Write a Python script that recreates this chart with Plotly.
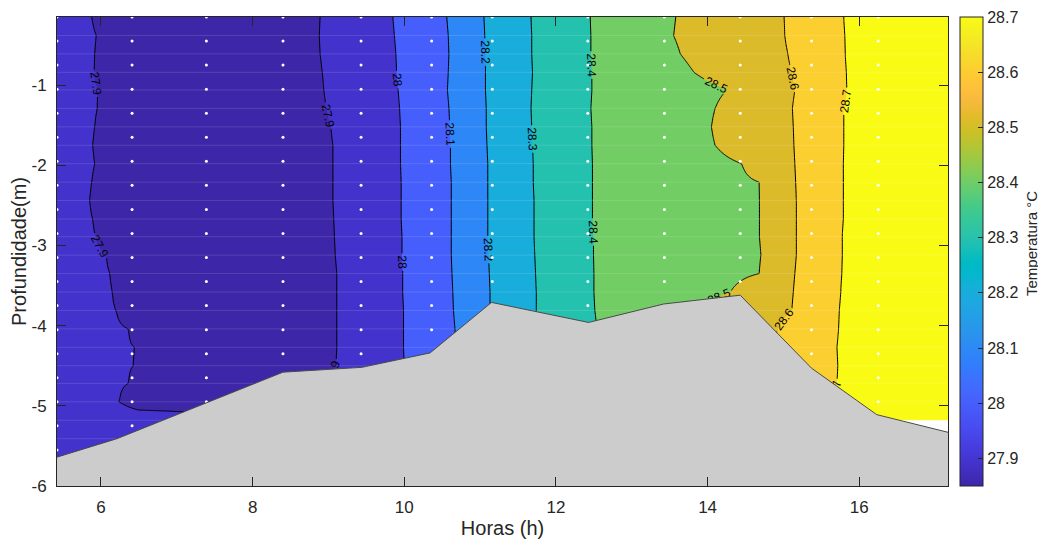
import numpy as np
import plotly.graph_objects as go

# ---------------- data ----------------
hours_range = [5.42, 17.17]
depth_range = [-6.0, -0.15]

# depth rows of the interpolated temperature grid (m)
grid_depths = [-0.15, -0.38, -0.61, -0.84, -1.06, -1.29, -1.52, -1.75, -1.98, -2.21,
               -2.44, -2.67, -2.89, -3.12, -3.35, -3.58, -3.81, -4.04, -4.27, -4.50,
               -4.72, -4.95, -5.18, -5.41, -5.64]

# temperature at the first / last hour of each row (°C)
left_edge_temp = [27.92] * 22 + [27.94] * 3
right_edge_temp = [28.72] * 25
trough_temp = 27.88

# hour at which each isotherm crosses each depth row
iso_27_9_left = [5.88, 5.94, 5.92, 5.91, 5.96, 5.95, 5.92, 5.89, 5.92, 5.88, 5.85, 5.89, 5.93,
                 6.07, 6.12, 6.15, 6.20, 6.36, 6.44, 6.43, 6.36, 6.24, 8.30, 8.30, 8.30]
iso_27_9_right = [8.89, 8.88, 8.89, 8.92, 8.94, 8.97, 9.03, 9.06, 9.06, 9.06, 9.06, 9.07, 9.08,
                  9.09, 9.11, 9.11, 9.11, 9.11, 9.11, 9.10, 9.00, 9.00, 8.90, 8.90, 8.90]
iso_28_0 = [9.85, 9.87, 9.89, 9.90, 9.92, 9.94, 9.95, 9.95, 9.95, 9.96, 9.96, 9.96, 9.97,
            9.97, 9.98, 9.98, 9.99, 9.99, 9.99, 10.00, 10.00, 10.00, 10.00, 10.00, 10.00]
iso_28_1 = [10.56, 10.58, 10.59, 10.58, 10.57, 10.59, 10.60, 10.61, 10.61, 10.62, 10.62, 10.62, 10.62,
            10.62, 10.63, 10.64, 10.65, 10.67, 10.68, 10.68, 10.68, 10.68, 10.68, 10.68, 10.68]
iso_28_2 = [11.05, 11.06, 11.07, 11.07, 11.07, 11.08, 11.08, 11.09, 11.10, 11.10, 11.10, 11.10, 11.10,
            11.11, 11.12, 11.13, 11.13, 11.13, 11.13, 11.13, 11.13, 11.13, 11.13, 11.13, 11.13]
iso_28_3 = [11.67, 11.68, 11.68, 11.69, 11.68, 11.67, 11.68, 11.69, 11.70, 11.70, 11.71, 11.71, 11.71,
            11.72, 11.73, 11.74, 11.74, 11.74, 11.74, 11.74, 11.74, 11.74, 11.74, 11.74, 11.74]
iso_28_4 = [12.45, 12.46, 12.46, 12.47, 12.47, 12.46, 12.47, 12.47, 12.48, 12.48, 12.48, 12.48, 12.49,
            12.49, 12.50, 12.50, 12.51, 12.54, 12.54, 12.54, 12.54, 12.54, 12.54, 12.54, 12.54]
iso_28_5 = [13.58, 13.55, 13.64, 13.82, 14.26, 14.10, 14.05, 14.10, 14.45, 14.68, 14.69, 14.69, 14.69,
            14.71, 14.68, 14.30, 13.80, 13.80, 13.80, 13.80, 13.80, 13.80, 13.80, 13.80, 13.80]
iso_28_6 = [15.01, 15.02, 15.06, 15.11, 15.15, 15.12, 15.13, 15.14, 15.15, 15.16, 15.17, 15.17, 15.17,
            15.17, 15.15, 15.13, 15.11, 14.93, 14.85, 14.85, 14.85, 14.85, 14.85, 14.85, 14.85]
iso_28_7 = [15.79, 15.80, 15.81, 15.82, 15.83, 15.79, 15.79, 15.79, 15.78, 15.78, 15.78, 15.78, 15.77,
            15.77, 15.76, 15.75, 15.73, 15.72, 15.70, 15.71, 15.70, 15.67, 15.67, 15.67, 15.67]

contour_levels = [27.9, 28.0, 28.1, 28.2, 28.3, 28.4, 28.5, 28.6, 28.7]
color_limits = [27.85, 28.7]
colorbar_ticks = [27.9, 28.0, 28.1, 28.2, 28.3, 28.4, 28.5, 28.6, 28.7]
colorbar_ticktext = ["27.9", "28", "28.1", "28.2", "28.3", "28.4", "28.5", "28.6", "28.7"]

# fill colour of each band: below 27.9, then above each level
band_colors = ["#3E26A8", "#4332CB", "#465EFB", "#2E87F7", "#18ADDB",
               "#24C1AE", "#72CD64", "#DBBB29", "#FCCF30", "#F9FB15"]

# measurement stations (white dots)
station_hours = [5.42, 6.41, 7.39, 8.40, 9.43, 10.36, 11.16, 12.42, 13.43, 14.43, 15.37, 16.25]
sample_depths = [-0.15, -0.45, -0.75, -1.05, -1.35, -1.65, -1.95, -2.25, -2.55, -2.85,
                 -3.15, -3.45, -3.75, -4.05, -4.35, -4.65, -4.95, -5.25, -5.55, -5.85]

# bottom profile (gray area)
bottom_hours = [5.42, 6.21, 8.40, 9.44, 10.34, 11.15, 12.43, 13.42, 14.43, 15.37, 16.23, 17.17]
bottom_depths = [-5.64, -5.41, -4.58, -4.52, -4.34, -3.71, -3.96, -3.73, -3.62, -4.53, -5.11, -5.33]

# area without data (bottom right corner)
nodata_hours = [16.23, 17.17, 17.17, 16.23]
nodata_depths = [-5.18, -5.18, -6.0, -6.0]

tick_hours = [6, 8, 10, 12, 14, 16]
tick_depths = [-6, -5, -4, -3, -2, -1]

# ---------------- colormap for the colorbar (MATLAB parula, 64) ----------------
PARULA = [
    (0.2422, 0.1504, 0.6603), (0.2504, 0.1650, 0.7076), (0.2578, 0.1818, 0.7511), (0.2647, 0.1978, 0.7952),
    (0.2706, 0.2147, 0.8364), (0.2751, 0.2342, 0.8710), (0.2783, 0.2559, 0.8991), (0.2803, 0.2782, 0.9221),
    (0.2813, 0.3006, 0.9414), (0.2810, 0.3228, 0.9579), (0.2795, 0.3447, 0.9717), (0.2760, 0.3667, 0.9829),
    (0.2699, 0.3892, 0.9906), (0.2602, 0.4123, 0.9952), (0.2440, 0.4358, 0.9988), (0.2206, 0.4603, 0.9973),
    (0.1963, 0.4847, 0.9892), (0.1834, 0.5074, 0.9798), (0.1786, 0.5289, 0.9682), (0.1764, 0.5499, 0.9520),
    (0.1687, 0.5703, 0.9359), (0.1540, 0.5902, 0.9218), (0.1460, 0.6091, 0.9079), (0.1380, 0.6276, 0.8973),
    (0.1248, 0.6459, 0.8883), (0.1113, 0.6635, 0.8763), (0.0952, 0.6798, 0.8598), (0.0689, 0.6948, 0.8394),
    (0.0297, 0.7082, 0.8163), (0.0036, 0.7203, 0.7917), (0.0067, 0.7312, 0.7660), (0.0433, 0.7411, 0.7394),
    (0.0964, 0.7500, 0.7120), (0.1408, 0.7584, 0.6842), (0.1717, 0.7670, 0.6554), (0.1938, 0.7758, 0.6251),
    (0.2161, 0.7843, 0.5923), (0.2470, 0.7918, 0.5567), (0.2906, 0.7973, 0.5188), (0.3406, 0.8008, 0.4789),
    (0.3909, 0.8029, 0.4354), (0.4456, 0.8024, 0.3909), (0.5044, 0.7993, 0.3480), (0.5616, 0.7942, 0.3045),
    (0.6174, 0.7876, 0.2612), (0.6720, 0.7793, 0.2227), (0.7242, 0.7698, 0.1910), (0.7738, 0.7598, 0.1646),
    (0.8203, 0.7498, 0.1535), (0.8634, 0.7406, 0.1596), (0.9035, 0.7330, 0.1774), (0.9393, 0.7288, 0.2100),
    (0.9728, 0.7298, 0.2394), (0.9956, 0.7434, 0.2371), (0.9970, 0.7659, 0.2199), (0.9952, 0.7893, 0.2028),
    (0.9892, 0.8136, 0.1885), (0.9786, 0.8386, 0.1766), (0.9676, 0.8639, 0.1643), (0.9610, 0.8890, 0.1537),
    (0.9597, 0.9135, 0.1423), (0.9628, 0.9373, 0.1265), (0.9691, 0.9606, 0.1064), (0.9769, 0.9839, 0.0805),
]


def rgb(c):
    return "rgb(%d,%d,%d)" % tuple(int(round(v * 255)) for v in c)


parula_scale = [[i / (len(PARULA) - 1), rgb(c)] for i, c in enumerate(PARULA)]
fill_scale = [[k / (len(band_colors) - 1), c] for k, c in enumerate(band_colors)]

# ---------------- temperature grid built from the isotherm crossings ----------------
x_mesh = np.linspace(hours_range[0], hours_range[1], 600)
iso_right = [iso_27_9_right, iso_28_0, iso_28_1, iso_28_2, iso_28_3, iso_28_4, iso_28_5, iso_28_6, iso_28_7]
z_grid = []
for r in range(len(grid_depths)):
    L = iso_27_9_left[r]
    R = iso_27_9_right[r]
    xs = [hours_range[0], L, L + 0.25, R - 0.25]
    ts = [left_edge_temp[r], 27.9, trough_temp, trough_temp]
    for lev, arr in zip(contour_levels, iso_right):
        xs.append(arr[r])
        ts.append(lev)
    xs.append(hours_range[1])
    ts.append(right_edge_temp[r])
    z_grid.append(np.interp(x_mesh, xs, ts))
z_grid = np.array(z_grid)

# ---------------- figure ----------------
# the page body adds an 8 px offset; the plot box is placed to compensate
PAGE_OFFSET = 8
W, H = 1046, 540
box_left, box_right, box_top, box_bottom = 57, 948, 17, 486

fig = go.Figure()

contour_spec = dict(start=contour_levels[0], end=contour_levels[-1], size=0.1)

# filled bands (one trace, no lines)
fig.add_trace(go.Contour(
    x=x_mesh, y=grid_depths, z=z_grid,
    autocontour=False,
    contours=dict(coloring="fill", showlines=False, **contour_spec),
    colorscale=fill_scale, showscale=False,
    line=dict(width=0, smoothing=0),
    hoverinfo="skip",
))

# faint rendering seams along the grid rows, as in the original export
seam_x, seam_y = [], []
for d in grid_depths[1:]:
    seam_x += [hours_range[0], hours_range[1], None]
    seam_y += [d, d, None]
fig.add_trace(go.Scatter(
    x=seam_x, y=seam_y, mode="lines",
    line=dict(color="rgba(255,255,255,0.13)", width=1),
    hoverinfo="skip", showlegend=False,
))

# isolines with labels: upper and lower part, so that each line gets two labels
split_row = 9
for rows in (slice(0, split_row + 1), slice(split_row, len(grid_depths))):
    fig.add_trace(go.Contour(
        x=x_mesh, y=grid_depths[rows], z=z_grid[rows],
        autocontour=False,
        contours=dict(coloring="none", showlabels=True,
                      labelfont=dict(size=12, color="black",
                                     family="Arial, Liberation Sans, sans-serif"),
                      **contour_spec),
        showscale=False,
        line=dict(color="black", width=1, smoothing=0),
        hoverinfo="skip",
    ))

dot_x, dot_y = np.meshgrid(station_hours, sample_depths)
fig.add_trace(go.Scatter(
    x=dot_x.ravel(), y=dot_y.ravel(), mode="markers",
    marker=dict(color="white", size=3, line=dict(width=0)),
    hoverinfo="skip", showlegend=False,
))

fig.add_trace(go.Scatter(
    x=nodata_hours, y=nodata_depths, mode="lines", fill="toself",
    fillcolor="white", line=dict(width=0), hoverinfo="skip", showlegend=False,
))

fig.add_trace(go.Scatter(
    x=bottom_hours + [hours_range[1], hours_range[0]],
    y=bottom_depths + [depth_range[0], depth_range[0]],
    mode="lines", fill="toself", fillcolor="#CCCCCC",
    line=dict(width=0), hoverinfo="skip", showlegend=False,
))
fig.add_trace(go.Scatter(
    x=bottom_hours, y=bottom_depths, mode="lines",
    line=dict(color="#4A4A4A", width=1), hoverinfo="skip", showlegend=False,
))

# colorbar (continuous parula)
fig.add_trace(go.Scatter(
    x=[None], y=[None], mode="markers",
    marker=dict(color=[color_limits[0]], colorscale=parula_scale,
                cmin=color_limits[0], cmax=color_limits[1], showscale=True,
                colorbar=dict(
                    x=1.0135, xanchor="left", xpad=0, y=0.5, yanchor="middle",
                    len=1, lenmode="fraction", ypad=0, thickness=23,
                    outlinewidth=1, outlinecolor="#262626",
                    ticks="inside", ticklen=5, tickcolor="#262626",
                    tickvals=colorbar_ticks, ticktext=colorbar_ticktext,
                    tickfont=dict(size=16, color="#262626"),
                )),
    hoverinfo="skip", showlegend=False,
))

axis_common = dict(
    ticks="inside", ticklen=9, tickwidth=1, tickcolor="#262626",
    showline=True, linecolor="#262626", linewidth=1, mirror="ticks",
    showgrid=False, zeroline=False,
    tickfont=dict(size=17, color="#262626"),
)

fig.update_layout(
    width=W, height=H,
    margin=dict(l=box_left - PAGE_OFFSET, r=W - (box_right - PAGE_OFFSET),
                t=box_top - PAGE_OFFSET, b=H - (box_bottom - PAGE_OFFSET), autoexpand=False),
    paper_bgcolor="white", plot_bgcolor="white",
    font=dict(family="Arial, Liberation Sans, sans-serif", color="#262626"),
    showlegend=False,
    xaxis=dict(range=hours_range, tickvals=tick_hours, ticktext=[str(v) for v in tick_hours],
               title=dict(text="Horas (h)", font=dict(size=20, color="#262626"), standoff=4),
               ticklabelstandoff=6, **axis_common),
    yaxis=dict(range=depth_range, tickvals=tick_depths, ticktext=["-%d" % abs(v) for v in tick_depths],
               title=dict(text="Profundidade(m)", font=dict(size=20, color="#262626"), standoff=6),
               ticklabelstandoff=6, **axis_common),
    annotations=[dict(
        text="Temperatura °C", xref="paper", yref="paper", x=1.0935, y=0.5166,
        xanchor="center", yanchor="middle", textangle=-90, showarrow=False,
        font=dict(size=15, color="#262626"),
    )],
)

fig.write_html("out.html")
